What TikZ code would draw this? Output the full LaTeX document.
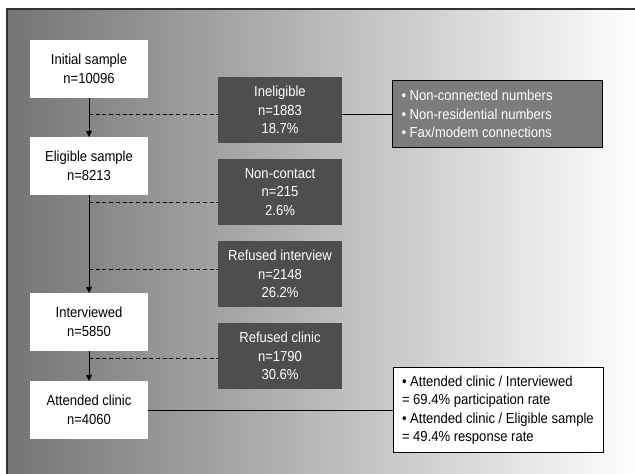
\documentclass[tikz,border=0pt]{standalone}
\usepackage{fontspec}
\setmainfont[FakeStretch=0.9]{Liberation Sans}
\usetikzlibrary{arrows.meta}
\definecolor{lossgray}{HTML}{4E4E4E}
\definecolor{notegray}{HTML}{7C7C7C}
\definecolor{bggray}{HTML}{747474}
\tikzset{
 stage/.style={fill=white,minimum width=118,minimum height=58,align=center,inner sep=0},
 loss/.style={fill=lossgray,text=white,minimum width=124,minimum height=66,align=center,inner sep=0},
 note/.style={draw=black,line width=0.8pt,text width=192,inner xsep=9,inner ysep=0,align=flush left},
 flow/.style={-{Triangle[length=6pt,width=6pt]},line width=0.7pt},
 drop/.style={dash pattern=on 4pt off 2.7pt,line width=0.7pt}
}
\begin{document}
\begin{tikzpicture}[x=1pt,y=-1pt,font=\fontsize{14.5}{18.5}\selectfont]
 \useasboundingbox (0,0) rectangle (635,474);
 % background
 \shade[left color=bggray,right color=white] (7,9) rectangle (640,480);
 \draw[line width=1.4pt,black!80] (7,480) -- (7,9) -- (640,9);
 % main flow
 \node[stage] (init) at (89,69) {Initial sample\\n=10096};
 \node[stage] (elig) at (89,166) {Eligible sample\\n=8213};
 \node[stage] (intv) at (89,322) {Interviewed\\n=5850};
 \node[stage] (attd) at (89,410) {Attended clinic\\n=4060};
 % losses
 \node[loss] (inel) at (280,110) {Ineligible\\n=1883\\18.7\%};
 \node[loss] (noco) at (280,192) {Non-contact\\n=215\\2.6\%};
 \node[loss] (rfin) at (280,274) {Refused interview\\n=2148\\26.2\%};
 \node[loss] (rfcl) at (280,356) {Refused clinic\\n=1790\\30.6\%};
 % notes
 \node[note,fill=notegray,text=white,minimum height=67] (why) at (497.5,114)
  {\textbullet\ Non-connected numbers\\\textbullet\ Non-residential numbers\\\textbullet\ Fax/modem connections};
 \node[note,fill=white,minimum height=85] (rate) at (498,410)
  {\textbullet\ Attended clinic / Interviewed\\= 69.4\% participation rate\\\textbullet\ Attended clinic / Eligible sample\\= 49.4\% response rate};
 % branch points
 \coordinate (b1) at (89,114);
 \coordinate (b2) at (89,202);
 \coordinate (b3) at (89,269);
 \coordinate (b4) at (89,358);
 \draw[flow] (init) -- (elig);
 \draw[flow] (elig) -- (intv);
 \draw[flow] (intv) -- (attd);
 \draw[drop] (b1) -- (b1 -| inel.west);
 \draw[drop] (b2) -- (b2 -| noco.west);
 \draw[drop] (b3) -- (b3 -| rfin.west);
 \draw[drop] (b4) -- (b4 -| rfcl.west);
 \draw[line width=0.7pt] (inel.east |- why.west) -- (why.west);
 \draw[line width=0.7pt] (attd) -- (rate);
\end{tikzpicture}
\end{document}
